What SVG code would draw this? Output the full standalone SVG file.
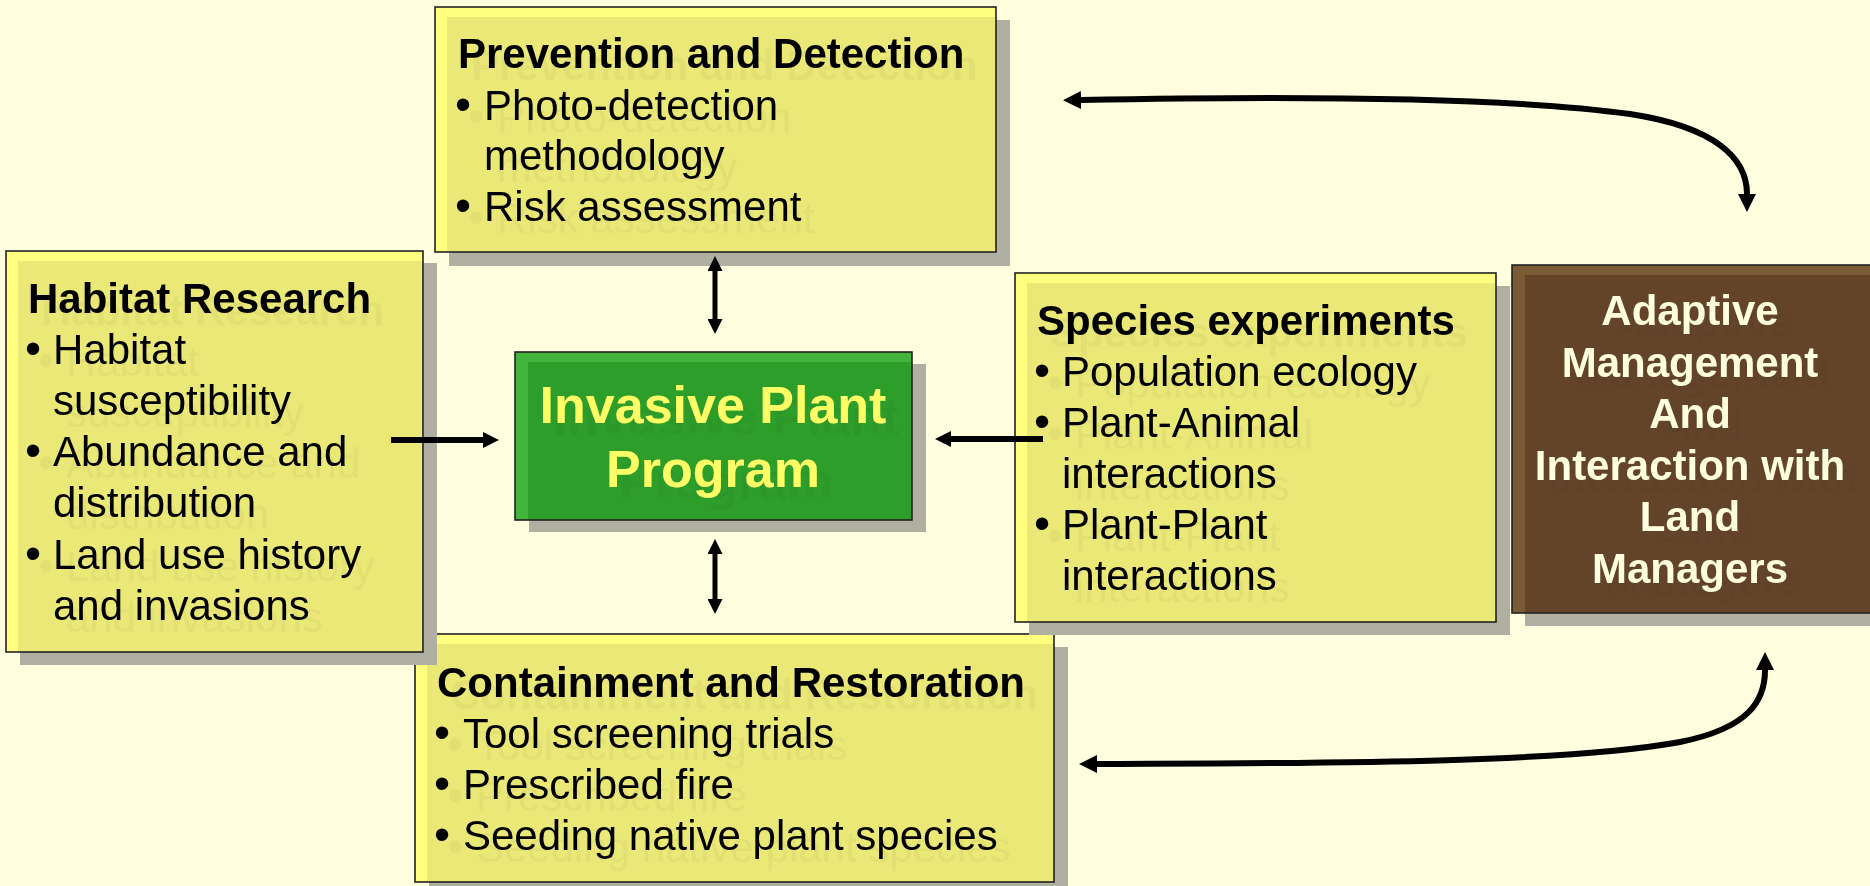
<svg xmlns="http://www.w3.org/2000/svg" width="1870" height="886" viewBox="0 0 1870 886">
<defs>
<style>
.bg{fill:#FFFFE0}
.sh{fill:#B0B0A2}
.ylt{fill:#FFFF80}
.ydk{fill:#EAE877}
.glt{fill:#44B43C}
.gdk{fill:#2E9E2A}
.blt{fill:#7B5A36}
.bdk{fill:#634429}
.bd{fill:none;stroke:#222;stroke-width:1.6}
text{font-family:"Liberation Sans",Arial,sans-serif}
.t{font-size:42px;font-weight:bold;fill:#000}
.b{font-size:42px;fill:#000}
.u{font-size:46px;fill:#000}
.g{font-size:52px;font-weight:bold;fill:#FFFF66;text-anchor:middle}
.w{font-size:42px;font-weight:bold;fill:#FFFFE0;text-anchor:middle}
.c{fill:none;stroke:#000}
</style>
<filter id="ts" x="-5%" y="-20%" width="115%" height="160%">
<feFlood flood-color="#000" flood-opacity="0.035"/>
<feComposite in2="SourceAlpha" operator="in"/>
<feOffset dx="13" dy="12" result="s"/>
<feMerge><feMergeNode in="s"/><feMergeNode in="SourceGraphic"/></feMerge>
</filter>
<marker id="ab" markerUnits="userSpaceOnUse" markerWidth="18" markerHeight="18" viewBox="0 0 10 10" refX="0" refY="5" orient="auto-start-reverse"><path d="M0,0 L10,5 L0,10 z" fill="#000"/></marker>
<marker id="am" markerUnits="userSpaceOnUse" markerWidth="16" markerHeight="17" viewBox="0 0 10 10" refX="0" refY="5" orient="auto-start-reverse"><path d="M0,0 L10,5 L0,10 z" fill="#000"/></marker>
<marker id="as" markerUnits="userSpaceOnUse" markerWidth="15" markerHeight="15" viewBox="0 0 10 10" refX="0" refY="5" orient="auto-start-reverse"><path d="M0,0 L10,5 L0,10 z" fill="#000"/></marker>
</defs>
<rect class="bg" x="0" y="0" width="1870" height="886"/>

<g id="containment">
<rect class="sh" x="429" y="647" width="639" height="248"/>
<rect class="ylt" x="415" y="634" width="639" height="248"/>
<rect class="ydk" x="427" y="644" width="627" height="238"/>
<rect class="bd" x="415" y="634" width="639" height="248"/>
<g filter="url(#ts)">
<text class="t" x="437" y="697">Containment and Restoration</text>
<text class="u" x="434" y="748">•</text><text class="b" x="463" y="748">Tool screening trials</text>
<text class="u" x="434" y="799">•</text><text class="b" x="463" y="799">Prescribed fire</text>
<text class="u" x="434" y="850">•</text><text class="b" x="463" y="850">Seeding native plant species</text>
</g>
</g>

<g id="habitat">
<rect class="sh" x="20" y="263" width="417" height="402"/>
<rect class="ylt" x="6" y="251" width="417" height="401"/>
<rect class="ydk" x="18" y="261" width="405" height="391"/>
<rect class="bd" x="6" y="251" width="417" height="401"/>
<g filter="url(#ts)">
<text class="t" x="28" y="313">Habitat Research</text>
<text class="u" x="25" y="364">•</text><text class="b" x="53" y="364">Habitat</text>
<text class="b" x="53" y="415">susceptibility</text>
<text class="u" x="25" y="466">•</text><text class="b" x="53" y="466">Abundance and</text>
<text class="b" x="53" y="517">distribution</text>
<text class="u" x="25" y="569">•</text><text class="b" x="53" y="569">Land use history</text>
<text class="b" x="53" y="620">and invasions</text>
</g>
</g>

<g id="prevention">
<rect class="sh" x="449" y="20" width="561" height="246"/>
<rect class="ylt" x="435" y="7" width="561" height="245"/>
<rect class="ydk" x="447" y="17" width="549" height="235"/>
<rect class="bd" x="435" y="7" width="561" height="245"/>
<g filter="url(#ts)">
<text class="t" x="458" y="68">Prevention and Detection</text>
<text class="u" x="455" y="120">•</text><text class="b" x="484" y="120">Photo-detection</text>
<text class="b" x="484" y="170">methodology</text>
<text class="u" x="455" y="221">•</text><text class="b" x="484" y="221">Risk assessment</text>
</g>
</g>

<g id="program">
<rect class="sh" x="529" y="364" width="397" height="168"/>
<rect class="glt" x="515" y="352" width="397" height="168"/>
<rect class="gdk" x="528" y="362" width="384" height="158"/>
<rect class="bd" x="515" y="352" width="397" height="168"/>
<g filter="url(#ts)">
<text class="g" x="713" y="423">Invasive Plant</text>
<text class="g" x="713" y="487">Program</text>
</g>
</g>

<g id="species">
<rect class="sh" x="1029" y="286" width="481" height="349"/>
<rect class="ylt" x="1015" y="273" width="481" height="349"/>
<rect class="ydk" x="1027" y="283" width="469" height="339"/>
<rect class="bd" x="1015" y="273" width="481" height="349"/>
<g filter="url(#ts)">
<text class="t" x="1037" y="335">Species experiments</text>
<text class="u" x="1034" y="386">•</text><text class="b" x="1062" y="386">Population ecology</text>
<text class="u" x="1034" y="437">•</text><text class="b" x="1062" y="437">Plant-Animal</text>
<text class="b" x="1062" y="488">interactions</text>
<text class="u" x="1034" y="539">•</text><text class="b" x="1062" y="539">Plant-Plant</text>
<text class="b" x="1062" y="590">interactions</text>
</g>
</g>

<g id="adaptive">
<rect class="sh" x="1525" y="278" width="360" height="348"/>
<rect class="blt" x="1512" y="265" width="370" height="348"/>
<rect class="bdk" x="1525" y="275" width="357" height="338"/>
<rect class="bd" x="1512" y="265" width="370" height="348"/>
<g filter="url(#ts)">
<text class="w" x="1690" y="325">Adaptive</text>
<text class="w" x="1690" y="377">Management</text>
<text class="w" x="1690" y="428">And</text>
<text class="w" x="1690" y="480">Interaction with</text>
<text class="w" x="1690" y="531">Land</text>
<text class="w" x="1690" y="583">Managers</text>
</g>
</g>

<g id="connectors">
<path class="c" d="M715,271 L715,319" stroke-width="5" marker-start="url(#as)" marker-end="url(#as)"/>
<path class="c" d="M715,554 L715,599" stroke-width="5" marker-start="url(#as)" marker-end="url(#as)"/>
<path class="c" d="M391,440 L483,440" stroke-width="6" marker-end="url(#am)"/>
<path class="c" d="M1043,439 L951,439" stroke-width="6" marker-end="url(#am)"/>
<path class="c" d="M1081,100 C1280,96 1500,96 1630,114 C1715,127 1747,158 1747,194" stroke-width="6" marker-start="url(#ab)" marker-end="url(#ab)"/>
<path class="c" d="M1097,764 C1300,763 1560,764 1680,742 C1750,728 1765,700 1765,670" stroke-width="6" marker-start="url(#ab)" marker-end="url(#ab)"/>
</g>
</svg>
